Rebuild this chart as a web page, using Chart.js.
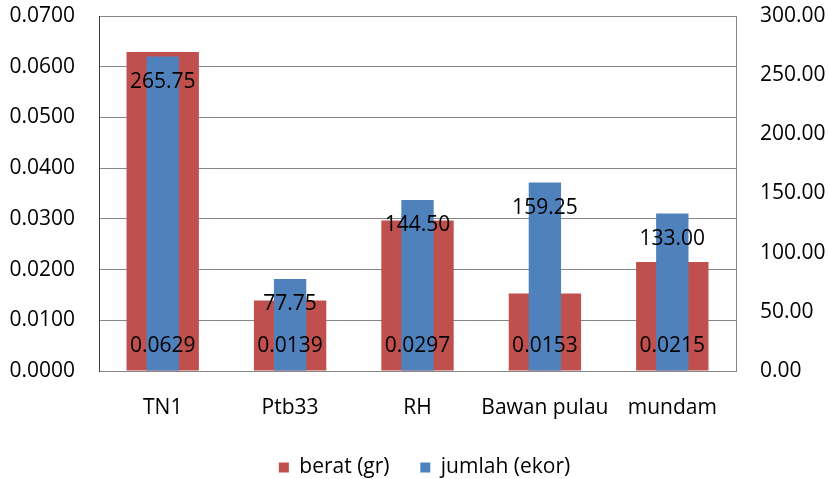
<!DOCTYPE html>
<html>
<head>
<meta charset="utf-8">
<script src="https://cdn.jsdelivr.net/npm/chart.js@4/dist/chart.umd.min.js"></script>
<style>
  html, body { margin: 0; padding: 0; background: #fff; }
  #wrap { width: 828px; height: 479px; }
</style>
</head>
<body>
<div id="wrap"><canvas id="chart"></canvas></div>
<script>
// data
const categories = ['TN1', 'Ptb33', 'RH', 'Bawan pulau', 'mundam'];
const beratGr = [0.0629, 0.0139, 0.0297, 0.0153, 0.0215];
const jumlahEkor = [265.75, 77.75, 144.50, 159.25, 133.00];

const RED = '#C0504D';
const BLUE = '#4F81BD';
const FONT = 'Open Sans';
const FS = 21;

// value labels: berat at the base, jumlah just under the bar top
const valueLabels = {
    id: 'valueLabels',
    afterDatasetsDraw(chart) {
        const ctx = chart.ctx;
        ctx.save();
        ctx.font = FS + 'px "' + FONT + '"';
        ctx.fillStyle = '#000';
        ctx.textAlign = 'center';
        ctx.textBaseline = 'middle';
        chart.data.datasets.forEach((ds, i) => {
            const meta = chart.getDatasetMeta(i);
            meta.data.forEach((bar, j) => {
                const v = ds.data[j];
                if (i === 0) {
                    ctx.fillText(v.toFixed(4), bar.x, bar.base - 24);
                } else {
                    ctx.fillText(v.toFixed(2), bar.x, bar.y + 25);
                }
            });
        });
        ctx.restore();
    }
};

// nudge the legend a few px lower / right, like the original
const legendNudge = {
    id: 'legendNudge',
    afterLayout(chart) {
        const lg = chart.legend;
        if (!lg) return;
        lg.top += 9;
        lg.bottom += 9;
        lg.left += 6;
        lg.right += 6;
    }
};

// fixed axis boxes so the plot sits where the original has it
const fitLeft = s => { s.width = 90; s.paddingTop = 16; s.paddingBottom = 13; };
const fitRight = s => { s.width = 92; s.paddingTop = 16; s.paddingBottom = 13; };
const fitBottom = s => { s.height = 77; };

// wider gap between the two legend entries without a tall legend box
const legendLabels = chart => {
    const items = Chart.defaults.plugins.legend.labels.generateLabels(chart);
    items.sort((a, b) => a.datasetIndex - b.datasetIndex);
    items[0].text = items[0].text + '     \u2009';
    return items;
};

new Chart(document.getElementById('chart'), {
    type: 'bar',
    data: {
        labels: categories,
        datasets: [
            {
                label: 'berat (gr)',
                data: beratGr,
                backgroundColor: RED,
                yAxisID: 'y',
                barPercentage: 0.568,
                categoryPercentage: 1,
                order: 2
            },
            {
                label: 'jumlah (ekor)',
                data: jumlahEkor,
                backgroundColor: BLUE,
                yAxisID: 'y2',
                barPercentage: 0.254,
                categoryPercentage: 1,
                order: 1
            }
        ]
    },
    options: {
        responsive: true,
        maintainAspectRatio: false,
        animation: false,
        grouped: false,
        layout: { padding: { top: 0, right: 0, left: 9, bottom: 0 } },
        plugins: {
            tooltip: { enabled: false },
            legend: {
                position: 'bottom',
                labels: {
                    font: { family: FONT, size: FS, lineHeight: 1 },
                    color: '#000',
                    boxWidth: 10,
                    boxHeight: 10,
                    padding: 0,
                    generateLabels: legendLabels
                }
            }
        },
        scales: {
            x: {
                afterFit: fitBottom,
                grid: { display: false },
                border: { display: true, color: '#868686' },
                ticks: {
                    font: { family: FONT, size: FS },
                    color: '#000',
                    padding: 16,
                    autoSkip: false,
                    maxRotation: 0,
                    minRotation: 0
                }
            },
            y: {
                position: 'left',
                min: 0,
                max: 0.07,
                afterFit: fitLeft,
                grid: { color: '#868686', drawTicks: false },
                border: { display: true, color: '#404040' },
                ticks: {
                    stepSize: 0.01,
                    font: { family: FONT, size: FS },
                    color: '#000',
                    padding: 24,
                    callback: v => v.toFixed(4)
                }
            },
            y2: {
                position: 'right',
                min: 0,
                max: 300,
                afterFit: fitRight,
                grid: { drawOnChartArea: false, drawTicks: false },
                border: { display: true, color: '#868686' },
                ticks: {
                    stepSize: 50,
                    font: { family: FONT, size: FS },
                    color: '#000',
                    padding: 24,
                    callback: v => v.toFixed(2)
                }
            }
        }
    },
    plugins: [valueLabels, legendNudge]
});
</script>
</body>
</html>
